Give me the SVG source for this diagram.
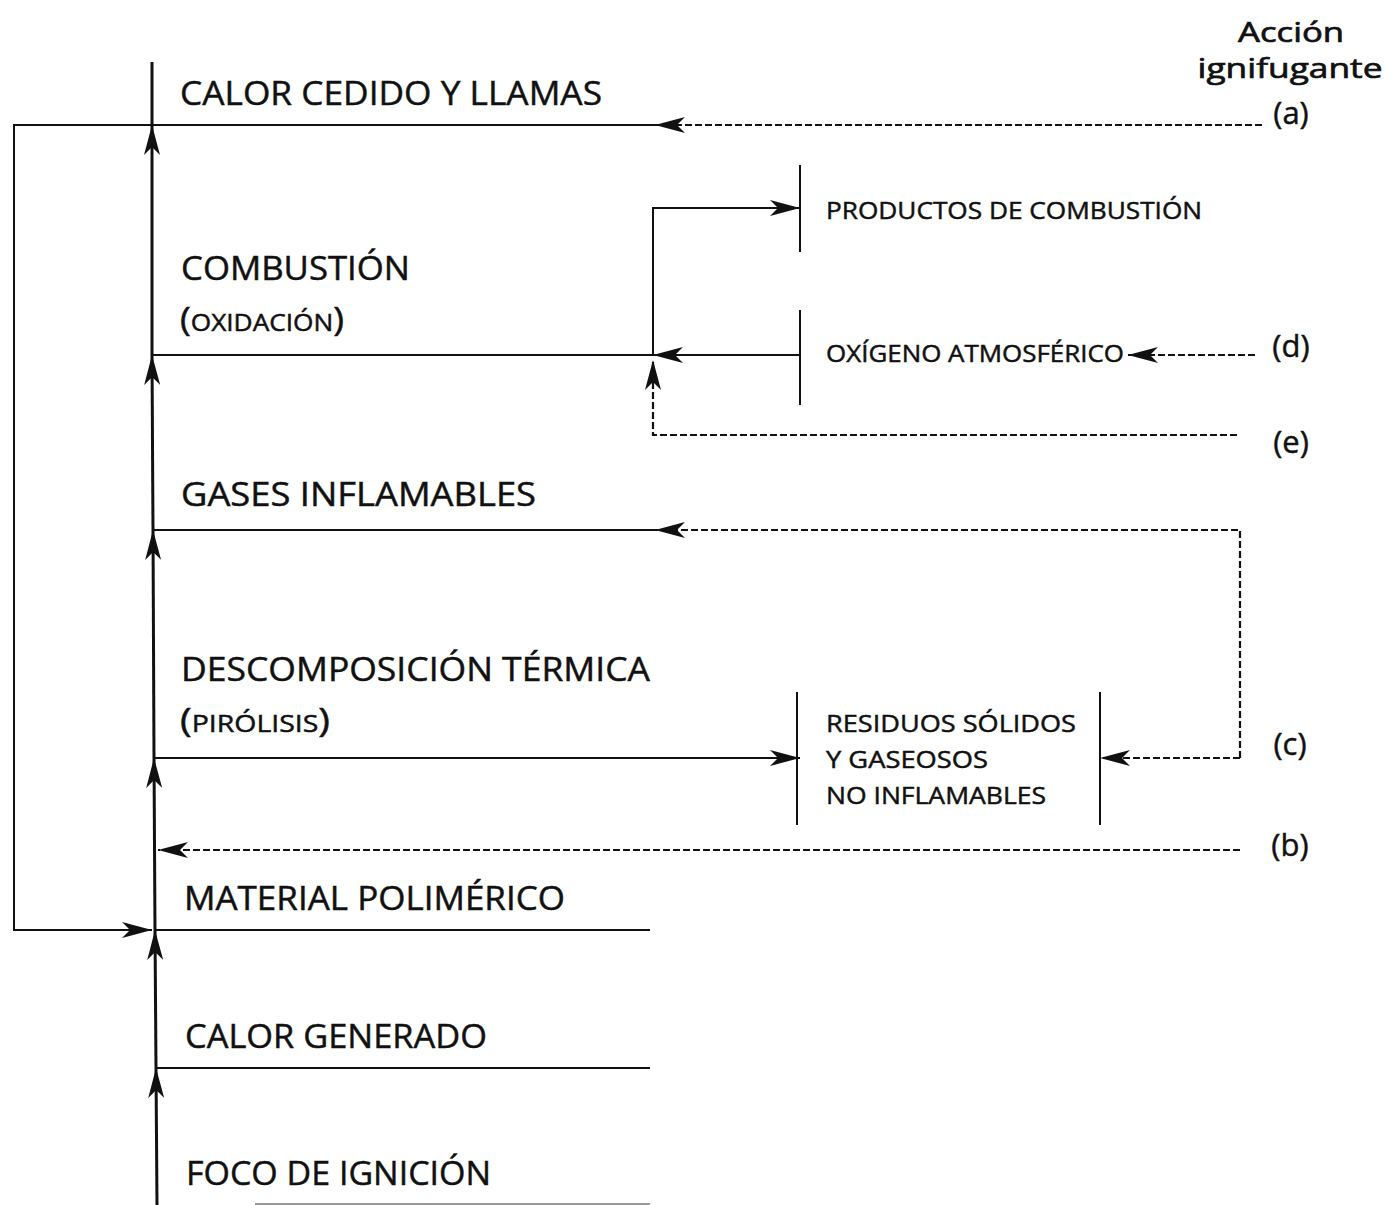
<svg xmlns="http://www.w3.org/2000/svg" width="1392" height="1205" viewBox="0 0 1392 1205">
  <style>
    text { stroke: #111; stroke-width: 0.45; }
    .big { font-family: "Open Sans", "Liberation Sans", sans-serif; font-size: 32px; fill: #111; }
    .sc { font-family: "Open Sans", "Liberation Sans", sans-serif; font-size: 23px; fill: #111; }
    .sm { font-family: "Open Sans", "Liberation Sans", sans-serif; font-size: 23px; fill: #111; }
    .lab { font-family: "Open Sans", "Liberation Sans", sans-serif; font-size: 31px; fill: #111; text-anchor: middle; }
    .head { font-family: "Open Sans", "Liberation Sans", sans-serif; font-size: 28px; fill: #111; text-anchor: middle; stroke-width: 0.7; }
    .main { stroke: #111; stroke-width: 3; fill: none; }
    .solid { stroke: #111; stroke-width: 2; fill: none; }
    .dash { stroke: #111; stroke-width: 2.2; fill: none; stroke-dasharray: 7 3; }
    .bar { stroke: #111; stroke-width: 2; fill: none; }
  </style>
  <defs>
    <marker id="arrow" viewBox="0 0 30 16" refX="30" refY="8" markerWidth="30" markerHeight="16" markerUnits="userSpaceOnUse" orient="auto">
      <path d="M0,0 L30,8 L0,16 L8,8 Z" fill="#111"/>
    </marker>
  </defs>

  <!-- connectors -->
  <g id="connectors">
    <!-- main upward chain -->
    <line class="main" x1="157" y1="1205" x2="156" y2="1068" marker-end="url(#arrow)"/>
    <line class="main" x1="156" y1="1068" x2="155" y2="930" marker-end="url(#arrow)"/>
    <line class="main" x1="155" y1="930" x2="154" y2="758" marker-end="url(#arrow)"/>
    <line class="main" x1="154" y1="758" x2="153" y2="530" marker-end="url(#arrow)"/>
    <line class="main" x1="153" y1="530" x2="152" y2="355" marker-end="url(#arrow)"/>
    <line class="main" x1="152" y1="355" x2="152" y2="125" marker-end="url(#arrow)"/>
    <line class="main" x1="152" y1="125" x2="152" y2="62"/>

    <!-- feedback loop: heat back to the polymer -->
    <polyline class="solid" points="152,125 14,125 14,930 152,930" marker-end="url(#arrow)"/>

    <!-- level lines -->
    <line class="solid" x1="152" y1="125" x2="655" y2="125"/>
    <line class="solid" x1="152" y1="530" x2="655" y2="530"/>
    <line class="solid" x1="155" y1="930" x2="650" y2="930"/>
    <line class="solid" x1="156" y1="1068" x2="650" y2="1068"/>
    <line x1="255" y1="1204" x2="650" y2="1204" stroke="#777" stroke-width="1.5"/>

    <!-- combustion: oxygen in, products out -->
    <line class="solid" x1="152" y1="355" x2="653" y2="355"/>
    <line class="solid" x1="800" y1="355" x2="653" y2="355" marker-end="url(#arrow)"/>
    <polyline class="solid" points="653,355 653,208 800,208" marker-end="url(#arrow)"/>

    <!-- pyrolysis to non-flammable residues -->
    <line class="solid" x1="154" y1="758" x2="800" y2="758" marker-end="url(#arrow)"/>

    <!-- flame-retardant actions -->
    <line class="dash" x1="1262" y1="125" x2="655" y2="125" marker-end="url(#arrow)"/>
    <line class="dash" x1="1255" y1="355" x2="1128" y2="355" marker-end="url(#arrow)"/>
    <polyline class="dash" points="1237,435 653,435 653,360" marker-end="url(#arrow)"/>
    <line class="dash" x1="1240" y1="758" x2="1100" y2="758" marker-end="url(#arrow)"/>
    <polyline class="dash" points="1240,758 1240,530 655,530" marker-end="url(#arrow)"/>
    <line class="dash" x1="1240" y1="850" x2="158" y2="850" marker-end="url(#arrow)"/>
  </g>

  <!-- stages -->
  <g id="calor-cedido"><text class="big" x="180" y="105" textLength="422" lengthAdjust="spacingAndGlyphs">CALOR CEDIDO Y LLAMAS</text></g>
  <g id="combustion">
    <text class="big" x="181" y="280" textLength="229" lengthAdjust="spacingAndGlyphs">COMBUSTIÓN</text>
    <text x="180" y="331" textLength="164" lengthAdjust="spacingAndGlyphs"><tspan class="big">(</tspan><tspan class="sc">OXIDACIÓN</tspan><tspan class="big">)</tspan></text>
  </g>
  <g id="gases"><text class="big" x="181" y="506" textLength="355" lengthAdjust="spacingAndGlyphs">GASES INFLAMABLES</text></g>
  <g id="descomposicion">
    <text class="big" x="181" y="681" textLength="469" lengthAdjust="spacingAndGlyphs">DESCOMPOSICIÓN TÉRMICA</text>
    <text x="180" y="732" textLength="150" lengthAdjust="spacingAndGlyphs"><tspan class="big">(</tspan><tspan class="sc">PIRÓLISIS</tspan><tspan class="big">)</tspan></text>
  </g>
  <g id="material"><text class="big" x="184" y="910" textLength="381" lengthAdjust="spacingAndGlyphs">MATERIAL POLIMÉRICO</text></g>
  <g id="calor-generado"><text class="big" x="185" y="1048" textLength="302" lengthAdjust="spacingAndGlyphs">CALOR GENERADO</text></g>
  <g id="foco"><text class="big" x="186" y="1185" textLength="305" lengthAdjust="spacingAndGlyphs">FOCO DE IGNICIÓN</text></g>

  <!-- side products -->
  <g id="productos">
    <line class="bar" x1="800" y1="165" x2="800" y2="252"/>
    <text class="sm" x="826" y="219" textLength="376" lengthAdjust="spacingAndGlyphs">PRODUCTOS DE COMBUSTIÓN</text>
  </g>
  <g id="oxigeno">
    <line class="bar" x1="800" y1="310" x2="800" y2="405"/>
    <text class="sm" x="826" y="362" textLength="298" lengthAdjust="spacingAndGlyphs">OXÍGENO ATMOSFÉRICO</text>
  </g>
  <g id="residuos">
    <line class="bar" x1="797" y1="692" x2="797" y2="825"/>
    <line class="bar" x1="1100" y1="692" x2="1100" y2="825"/>
    <text class="sm" x="826" y="732" textLength="250" lengthAdjust="spacingAndGlyphs">RESIDUOS SÓLIDOS</text>
    <text class="sm" x="826" y="768" textLength="162" lengthAdjust="spacingAndGlyphs">Y GASEOSOS</text>
    <text class="sm" x="826" y="804" textLength="220" lengthAdjust="spacingAndGlyphs">NO INFLAMABLES</text>
  </g>

  <!-- flame-retardant action labels -->
  <g id="accion">
    <text class="head"><tspan x="1291" y="42" textLength="106" lengthAdjust="spacingAndGlyphs">Acción</tspan><tspan x="1290" y="78" textLength="185" lengthAdjust="spacingAndGlyphs">ignifugante</tspan></text>
  </g>
  <g id="a"><text class="lab" x="1291" y="124">(a)</text></g>
  <g id="d"><text class="lab" x="1291" y="357">(d)</text></g>
  <g id="e"><text class="lab" x="1291" y="453">(e)</text></g>
  <g id="c"><text class="lab" x="1290" y="755">(c)</text></g>
  <g id="b"><text class="lab" x="1290" y="856">(b)</text></g>
</svg>
